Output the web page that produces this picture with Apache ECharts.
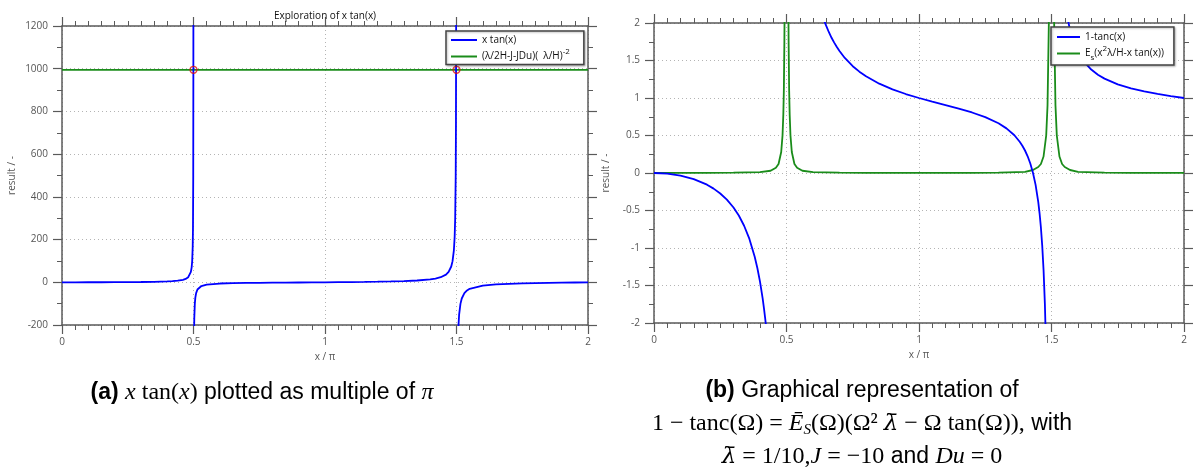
<!DOCTYPE html>
<html><head><meta charset="utf-8">
<script src="https://cdn.jsdelivr.net/npm/echarts@6/dist/echarts.min.js"></script>
<style>html,body{margin:0;padding:0;background:#fff}#c{width:1197px;height:475px}</style>
</head><body><div id="c"></div>
<script>
// ---- tick values ----
const xTicks = [0, 0.5, 1, 1.5, 2];
const leftYTicks = [-200, 0, 200, 400, 600, 800, 1000, 1200];
const rightYTicks = [-2, -1.5, -1, -0.5, 0, 0.5, 1, 1.5, 2];

// ---- (a) x tan(x), x in multiples of pi ----
const xtanSeg1 = [[0,0],[0.05,0.025],[0.1,0.10],[0.15,0.24],[0.2,0.46],[0.25,0.79],[0.3,1.3],[0.35,2.16],[0.4,3.87],[0.42,5.1],[0.44,7.3],[0.46,11.4],[0.47,15.6],[0.48,24],[0.485,32],[0.49,49],[0.493,70],[0.495,99],[0.497,166],[0.498,249],[0.499,499],[0.4995,999],[0.4997,1665]];
const xtanSeg2 = [[0.5003,-1668],[0.5005,-1001],[0.501,-501],[0.502,-251],[0.503,-168],[0.505,-101],[0.507,-72],[0.51,-51],[0.515,-34],[0.52,-26],[0.53,-17.6],[0.55,-10.9],[0.6,-5.8],[0.65,-4.0],[0.7,-3.0],[0.75,-2.36],[0.8,-1.83],[0.85,-1.36],[0.9,-0.92],[0.95,-0.47],[1.0,0],[1.05,0.52],[1.1,1.12],[1.15,1.84],[1.2,2.74],[1.25,3.93],[1.3,5.6],[1.35,8.3],[1.4,13.5],[1.42,17.4],[1.44,23.7],[1.46,36],[1.47,49],[1.48,74],[1.485,99],[1.49,149],[1.493,213],[1.495,299],[1.497,499],[1.498,749],[1.499,1499]];
const xtanSeg3 = [[1.501,-1501],[1.502,-751],[1.503,-501],[1.505,-301],[1.507,-215],[1.51,-151],[1.515,-101],[1.52,-76],[1.53,-51],[1.54,-38],[1.55,-30.7],[1.6,-15.5],[1.65,-10.2],[1.7,-7.35],[1.75,-5.5],[1.8,-4.1],[1.85,-2.96],[1.9,-1.94],[1.95,-0.97],[2.0,0]];
const constLine = [[0,995],[2,995]];
const crossPoints = [[0.5,995],[1.5,995]];

// ---- (b) 1-tanc(x) and E_s(...) ----
const tancSeg1 = [[0,0],[0.05,-0.008],[0.1,-0.034],[0.15,-0.081],[0.2,-0.156],[0.225,-0.208],[0.25,-0.273],[0.275,-0.355],[0.3,-0.46],[0.32,-0.567],[0.34,-0.703],[0.36,-0.879],[0.38,-1.116],[0.39,-1.267],[0.4,-1.449],[0.41,-1.672],[0.415,-1.804],[0.42,-1.952],[0.425,-2.119],[0.43,-2.31]];
const tancSeg2 = [[0.62,2.297],[0.63,2.168],[0.64,2.057],[0.645,2.004],[0.65,1.961],[0.66,1.877],[0.67,1.803],[0.68,1.738],[0.69,1.679],[0.7,1.626],[0.72,1.534],[0.75,1.424],[0.775,1.351],[0.8,1.289],[0.85,1.191],[0.9,1.115],[0.95,1.053],[1.0,1],[1.05,0.952],[1.1,0.906],[1.15,0.859],[1.2,0.807],[1.25,0.745],[1.3,0.663],[1.33,0.595],[1.36,0.503],[1.38,0.417],[1.39,0.364],[1.4,0.30],[1.41,0.223],[1.42,0.127],[1.43,0.004],[1.44,-0.159],[1.45,-0.386],[1.455,-0.537],[1.46,-0.726],[1.465,-0.968],[1.47,-1.291],[1.475,-1.742],[1.48,-2.418]];
const tancSeg3 = [[1.55,2.297],[1.555,2.173],[1.56,2.07],[1.57,1.907],[1.58,1.785],[1.59,1.689],[1.6,1.612],[1.62,1.496],[1.65,1.379],[1.675,1.31],[1.7,1.258],[1.75,1.182],[1.8,1.128],[1.85,1.088],[1.9,1.054],[1.95,1.026],[2.0,1]];
const esLine = [[0,0],[0.1,0.001],[0.2,0.002],[0.3,0.004],[0.4,0.012],[0.44,0.03],[0.46,0.07],[0.47,0.12],[0.48,0.28],[0.485,0.5],[0.488,0.78],[0.49,1.1],[0.492,1.75],[0.4925,2.0],[0.494,3.1],[0.5,50],[0.506,3.1],[0.5075,2.0],[0.508,1.75],[0.51,1.1],[0.512,0.78],[0.515,0.5],[0.52,0.28],[0.53,0.12],[0.54,0.07],[0.56,0.03],[0.6,0.012],[0.7,0.004],[0.8,0.002],[1.0,0.001],[1.2,0.002],[1.3,0.004],[1.4,0.015],[1.43,0.04],[1.45,0.08],[1.46,0.12],[1.47,0.22],[1.48,0.5],[1.485,0.9],[1.49,2.0],[1.492,3.1],[1.5,50],[1.508,3.1],[1.51,2.0],[1.515,0.9],[1.52,0.5],[1.53,0.22],[1.54,0.12],[1.55,0.08],[1.57,0.04],[1.6,0.015],[1.7,0.004],[1.8,0.002],[2.0,0.001]];

const BLUE = '#0000ff', GREEN = '#1a8c1a', AX = '#5a5a5a', LBL = '#555';
const FONT = 'Open Sans';

function xAx(g, bottom) {
  return {
    type: 'value', gridIndex: g, position: bottom ? 'bottom' : 'top',
    min: xTicks[0], max: xTicks[xTicks.length - 1], interval: xTicks[1] - xTicks[0],
    axisLine: { onZero: false, lineStyle: { color: AX, width: 1.5 } },
    axisTick: { show: true, length: 9, lineStyle: { color: AX, width: 1.2 } },
    minorTick: { show: true, splitNumber: 10, length: 5, lineStyle: { color: AX, width: 1 } },
    axisLabel: { show: bottom, color: LBL, fontSize: 10, fontFamily: FONT, margin: 12, formatter: v => String(v) },
    splitLine: { show: bottom, lineStyle: { type: [1, 3], color: '#b4b4b4', width: 1 } },
    name: bottom ? 'x / π' : '', nameLocation: 'middle', nameGap: 27,
    nameTextStyle: { color: LBL, fontSize: 10, fontFamily: FONT }
  };
}
function yAx(g, left, ticks, gap) {
  return {
    type: 'value', gridIndex: g, position: left ? 'left' : 'right',
    min: ticks[0], max: ticks[ticks.length - 1], interval: ticks[1] - ticks[0],
    axisLine: { onZero: false, lineStyle: { color: AX, width: 1.5 } },
    axisTick: { show: true, length: 9, lineStyle: { color: AX, width: 1.2 } },
    minorTick: { show: true, splitNumber: 2, length: 5, lineStyle: { color: AX, width: 1 } },
    axisLabel: { show: left, color: LBL, fontSize: 10, fontFamily: FONT, margin: 14, formatter: v => String(v) },
    splitLine: { show: left, lineStyle: { type: [1, 3], color: '#b4b4b4', width: 1 } },
    name: left ? 'result / -' : '', nameLocation: 'middle', nameGap: gap, nameRotate: 90,
    nameTextStyle: { color: LBL, fontSize: 10, fontFamily: FONT }
  };
}
function line(name, data, color, xi, yi) {
  return { type: 'line', name, data, xAxisIndex: xi, yAxisIndex: yi, showSymbol: false, symbol: 'none',
    lineStyle: { color, width: 1.8 }, itemStyle: { color }, clip: true, animation: false, z: 3 };
}

const legendText = { color: '#111', fontSize: 10, fontFamily: FONT,
  rich: { sup: { fontSize: 8, fontFamily: FONT, color: '#111', padding: [0, 0, 9, 0] },
          sub: { fontSize: 8, fontFamily: FONT, color: '#111', padding: [9, 0, 0, 0] } } };
const legendBase = { orient: 'vertical', icon: 'rect', itemHeight: 2, itemGap: 3,
  backgroundColor: '#fff', borderColor: '#444', borderWidth: 1.5,
  shadowColor: 'rgba(0,0,0,0.25)', shadowBlur: 2, shadowOffsetX: 1, shadowOffsetY: 1,
  textStyle: legendText, z: 10 };

const N1 = 'x tan(x)', N2 = 'lamconst', N3 = '1-tanc(x)', N4 = 'Es';

const option = {
  animation: false,
  backgroundColor: '#fff',
  title: [{ text: 'Exploration of x tan(x)', left: 320, top: 6, textAlign: 'center',
    textStyle: { fontSize: 10, fontWeight: 'normal', color: '#111', fontFamily: FONT } }],
  grid: [
    { left: 62, top: 26, width: 526, height: 299 },
    { left: 654, top: 23, width: 530, height: 300 }
  ],
  xAxis: [xAx(0, true), xAx(0, false), xAx(1, true), xAx(1, false)],
  yAxis: [yAx(0, true, leftYTicks, 45), yAx(0, false, leftYTicks, 0), yAx(1, true, rightYTicks, 43), yAx(1, false, rightYTicks, 0)],
  legend: [
    Object.assign({}, legendBase, { left: 446, top: 31, itemWidth: 26, padding: [4, 14, 3, 5],
      data: [N1, N2],
      formatter: n => n === N2 ? '(λ/2H-J-JDu)(  λ/H){sup|-2}' : n }),
    Object.assign({}, legendBase, { left: 1051, top: 27, itemWidth: 23, padding: [5, 10, 3, 6],
      data: [N3, N4],
      formatter: n => n === N4 ? 'E{sub|s}(x{sup|2}λ/H-x tan(x))' : n })
  ],
  series: [
    line(N2, constLine, GREEN, 0, 0),
    line(N1, xtanSeg1, BLUE, 0, 0),
    line(N1, xtanSeg2, BLUE, 0, 0),
    line(N1, xtanSeg3, BLUE, 0, 0),
    { type: 'scatter', name: 'cross', data: crossPoints, xAxisIndex: 0, yAxisIndex: 0, symbol: 'circle', symbolSize: 7,
      itemStyle: { color: 'rgba(0,0,0,0)', borderColor: '#e01010', borderWidth: 1.3 }, z: 5, silent: true },
    line(N4, esLine, GREEN, 2, 2),
    line(N3, tancSeg1, BLUE, 2, 2),
    line(N3, tancSeg2, BLUE, 2, 2),
    line(N3, tancSeg3, BLUE, 2, 2)
  ],
  graphic: [
    { type: 'text', x: 262, y: 393, z: 20, style: {
      text: '{b|(a)} {mi|x}{mr| tan(}{mi|x}{mr|)} plotted as multiple of {mi|π}',
      font: '23px "Liberation Sans"', fill: '#000', align: 'center', verticalAlign: 'middle',
      rich: { b: { fontWeight: 'bold', fontSize: 23, fontFamily: 'Liberation Sans' },
              mi: { fontStyle: 'italic', fontSize: 24, fontFamily: 'Liberation Serif' },
              mr: { fontSize: 24, fontFamily: 'Liberation Serif' } } } },
    { type: 'text', x: 862, y: 424, z: 20, style: {
      text: '{b|(b)} Graphical representation of\n' +
            '{mr|1 − tanc(Ω) = }{mi|Ē}{sub|S}{mr|(Ω)(Ω² }{lam|λ̄}{mr| − Ω tan(Ω)),} with\n' +
            '{lam|λ̄}{mr| = 1/10,}{mi|J}{mr| = −10} and {mi|Du}{mr| = 0}',
      font: '23px "Liberation Sans"', fill: '#000', align: 'center', verticalAlign: 'middle', lineHeight: 33,
      rich: { b: { fontWeight: 'bold', fontSize: 23, fontFamily: 'Liberation Sans', lineHeight: 33 },
              mi: { fontStyle: 'italic', fontSize: 24, fontFamily: 'Liberation Serif', lineHeight: 33 },
              lam: { fontStyle: 'italic', fontSize: 23, fontFamily: 'DejaVu Serif', lineHeight: 33 },
              mr: { fontSize: 24, fontFamily: 'Liberation Serif', lineHeight: 33 },
              sub: { fontStyle: 'italic', fontSize: 15, fontFamily: 'Liberation Serif', lineHeight: 20, padding: [12, 0, 0, 0] } } } }
  ]
};
const chart = echarts.init(document.getElementById('c'), null, { renderer: 'canvas' });
chart.setOption(option);
</script></body></html>
